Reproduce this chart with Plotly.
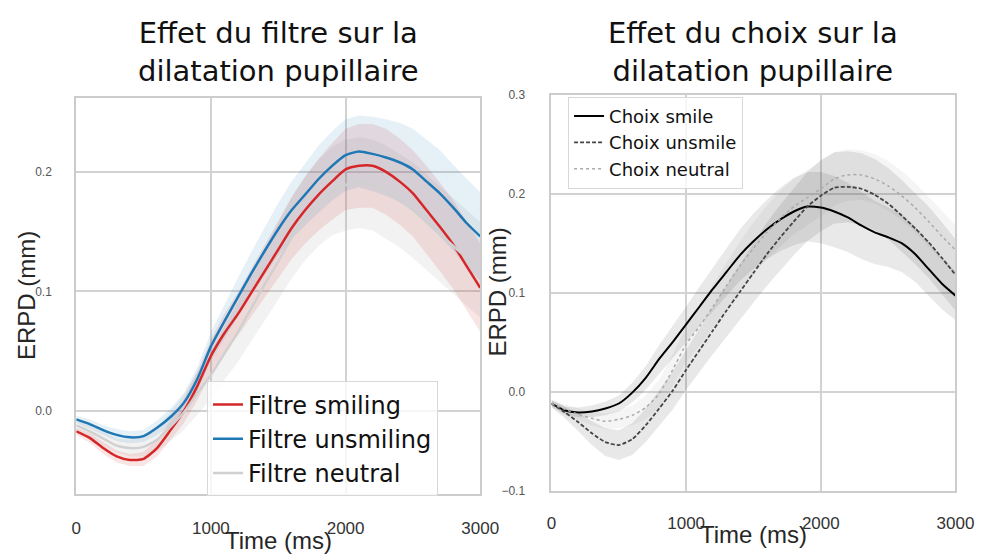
import plotly.graph_objects as go

# ---------------- data ----------------
time_ms = [0, 100, 200, 300, 400, 500, 600, 700, 800, 900, 1000,
           1100, 1200, 1300, 1400, 1500, 1600, 1700, 1800, 1900, 2000,
           2100, 2200, 2300, 2400, 2500, 2600, 2700, 2800, 2900, 3000]

# Effet du filtre : moyennes (mm) et demi-largeurs d'intervalle de confiance
filtre_smiling = [-0.017, -0.0225, -0.031, -0.038, -0.041, -0.040, -0.031, -0.016, 0.000, 0.021, 0.046,
                  0.065, 0.081, 0.099, 0.117, 0.135, 0.153, 0.168, 0.181, 0.192, 0.202,
                  0.205, 0.205, 0.200, 0.192, 0.182, 0.168, 0.154, 0.139, 0.121, 0.103]
filtre_smiling_ci = [0.003, 0.004, 0.005, 0.005, 0.005, 0.006, 0.007, 0.008, 0.010, 0.012, 0.014,
                     0.016, 0.018, 0.020, 0.022, 0.024, 0.026, 0.028, 0.030, 0.032, 0.034,
                     0.035, 0.035, 0.036, 0.036, 0.036, 0.037, 0.037, 0.037, 0.037, 0.037]

filtre_unsmiling = [-0.007, -0.011, -0.016, -0.020, -0.022, -0.021, -0.014, -0.005, 0.007, 0.027, 0.054,
                    0.075, 0.095, 0.115, 0.134, 0.152, 0.168, 0.181, 0.194, 0.205, 0.214,
                    0.217, 0.215, 0.212, 0.208, 0.202, 0.192, 0.182, 0.170, 0.157, 0.146]
filtre_unsmiling_ci = [0.003, 0.004, 0.004, 0.005, 0.005, 0.005, 0.006, 0.007, 0.008, 0.010, 0.012,
                       0.014, 0.016, 0.018, 0.020, 0.022, 0.024, 0.026, 0.028, 0.029, 0.030,
                       0.030, 0.031, 0.032, 0.033, 0.034, 0.035, 0.036, 0.036, 0.037, 0.037]

filtre_neutral = [-0.012, -0.017, -0.023, -0.029, -0.031, -0.030, -0.024, -0.013, -0.001, 0.015, 0.030,
                  0.048, 0.066, 0.086, 0.106, 0.125, 0.145, 0.161, 0.174, 0.184, 0.189,
                  0.191, 0.189, 0.183, 0.176, 0.168, 0.158, 0.148, 0.138, 0.128, 0.118]
filtre_neutral_ci = [0.004, 0.005, 0.006, 0.006, 0.007, 0.008, 0.010, 0.012, 0.015, 0.018, 0.020,
                     0.022, 0.025, 0.028, 0.030, 0.032, 0.034, 0.035, 0.036, 0.037, 0.038,
                     0.038, 0.038, 0.039, 0.039, 0.040, 0.040, 0.040, 0.040, 0.040, 0.040]

# Effet du choix
choix_smile = [-0.012, -0.019, -0.021, -0.020, -0.017, -0.012, -0.001, 0.014, 0.033, 0.050, 0.068,
               0.086, 0.104, 0.121, 0.138, 0.152, 0.164, 0.174, 0.182, 0.187, 0.186,
               0.182, 0.176, 0.168, 0.161, 0.156, 0.150, 0.139, 0.124, 0.109, 0.097]
choix_smile_ci = [0.003, 0.004, 0.005, 0.006, 0.007, 0.008, 0.010, 0.012, 0.014, 0.016, 0.018,
                  0.020, 0.022, 0.024, 0.026, 0.028, 0.030, 0.032, 0.034, 0.035, 0.036,
                  0.036, 0.035, 0.034, 0.032, 0.030, 0.029, 0.028, 0.027, 0.026, 0.025]

choix_unsmile = [-0.012, -0.021, -0.031, -0.042, -0.051, -0.054, -0.048, -0.034, -0.017, 0.001, 0.022,
                 0.042, 0.062, 0.082, 0.101, 0.120, 0.139, 0.156, 0.172, 0.187, 0.198,
                 0.206, 0.207, 0.205, 0.199, 0.190, 0.178, 0.165, 0.151, 0.135, 0.118]
choix_unsmile_ci = [0.004, 0.006, 0.009, 0.012, 0.014, 0.015, 0.016, 0.017, 0.018, 0.019, 0.020,
                    0.022, 0.024, 0.026, 0.028, 0.030, 0.032, 0.033, 0.034, 0.035, 0.036,
                    0.036, 0.036, 0.036, 0.036, 0.036, 0.036, 0.036, 0.036, 0.036, 0.036]

choix_neutral = [-0.012, -0.018, -0.023, -0.027, -0.030, -0.028, -0.024, -0.016, -0.002, 0.022, 0.048,
                 0.066, 0.086, 0.107, 0.127, 0.145, 0.161, 0.175, 0.187, 0.196, 0.205,
                 0.215, 0.219, 0.219, 0.215, 0.208, 0.198, 0.186, 0.172, 0.157, 0.143]
choix_neutral_ci = [0.003, 0.005, 0.006, 0.007, 0.008, 0.009, 0.010, 0.012, 0.014, 0.016, 0.018,
                    0.020, 0.022, 0.024, 0.025, 0.026, 0.027, 0.028, 0.028, 0.028, 0.028,
                    0.027, 0.026, 0.025, 0.025, 0.025, 0.025, 0.025, 0.025, 0.025, 0.025]

x_ticks = [0, 1000, 2000, 3000]
y_ticks_left = [0.0, 0.1, 0.2]
y_ticks_right = [-0.1, 0.0, 0.1, 0.2, 0.3]

# ---------------- figure ----------------
fig = go.Figure()

def band(mean, ci, color, xa, ya):
    upper = [m + c for m, c in zip(mean, ci)]
    lower = [m - c for m, c in zip(mean, ci)]
    fig.add_trace(go.Scatter(
        x=time_ms + time_ms[::-1], y=upper + lower[::-1],
        fill="toself", fillcolor=color, line=dict(width=0), mode="lines",
        hoverinfo="skip", showlegend=False, xaxis=xa, yaxis=ya))

def curve(mean, name, color, width, dash, xa, ya, legend):
    fig.add_trace(go.Scatter(
        x=time_ms, y=mean, name=name, mode="lines",
        line=dict(color=color, width=width, dash=dash, shape="spline", smoothing=0.6),
        xaxis=xa, yaxis=ya, legend=legend))

# left panel: filter
band(filtre_neutral, filtre_neutral_ci, "rgba(165,165,165,0.14)", "x", "y")
band(filtre_smiling, filtre_smiling_ci, "rgba(214,39,40,0.12)", "x", "y")
band(filtre_unsmiling, filtre_unsmiling_ci, "rgba(31,119,180,0.11)", "x", "y")
curve(filtre_smiling, "Filtre smiling", "#d62728", 2.5, "solid", "x", "y", "legend")
curve(filtre_unsmiling, "Filtre unsmiling", "#1f77b4", 2.5, "solid", "x", "y", "legend")
curve(filtre_neutral, "Filtre neutral", "#d0d0d0", 2.5, "solid", "x", "y", "legend")

# right panel: choice
band(choix_neutral, choix_neutral_ci, "rgba(170,170,170,0.12)", "x2", "y2")
band(choix_smile, choix_smile_ci, "rgba(0,0,0,0.085)", "x2", "y2")
band(choix_unsmile, choix_unsmile_ci, "rgba(30,30,30,0.10)", "x2", "y2")
curve(choix_smile, "Choix smile", "#000000", 2, "solid", "x2", "y2", "legend2")
curve(choix_unsmile, "Choix unsmile", "#444444", 1.8, "4px,2px", "x2", "y2", "legend2")
curve(choix_neutral, "Choix neutral", "#aaaaaa", 1.5, "3px,3px", "x2", "y2", "legend2")

W, H = 994, 559
grid = "#d2d2d2"
frame = "#cccccc"
tick_x_font = dict(family="Liberation Sans, Arial, sans-serif", size=17, color="#333333")
tick_y_font = dict(family="Liberation Sans, Arial, sans-serif", size=12, color="#555555")

axis_common = dict(showgrid=True, gridcolor=grid, gridwidth=1.5, showline=True, mirror=True,
                   linecolor=frame, linewidth=2, zeroline=False, ticks="")

fig.update_layout(
    width=W, height=H,
    margin=dict(l=0, r=0, t=0, b=0),
    paper_bgcolor="white", plot_bgcolor="white",
    xaxis=dict(domain=[73 / W, 487 / W], range=[0, 3000], tickvals=x_ticks,
               tickfont=tick_x_font, ticklabelstandoff=18, anchor="y", **axis_common),
    yaxis=dict(domain=[60 / H, 466 / H], range=[-0.069, 0.262], tickvals=y_ticks_left,
               ticktext=["%.1f" % v for v in y_ticks_left], tickfont=tick_y_font,
               ticklabelstandoff=20, anchor="x", **axis_common),
    xaxis2=dict(domain=[560 / W, 974 / W], range=[0, 3000], tickvals=x_ticks,
                tickfont=tick_x_font, ticklabelstandoff=16, anchor="y2", **axis_common),
    yaxis2=dict(domain=[63 / H, 469 / H], range=[-0.1, 0.3], tickvals=y_ticks_right,
                ticktext=[("\u2212%.1f" % -v) if v < 0 else "%.1f" % v for v in y_ticks_right],
                tickfont=tick_y_font, ticklabelstandoff=22, anchor="x2", **axis_common),
    legend=dict(x=207 / W, y=1 - 384 / H, xanchor="left", yanchor="top",
                bgcolor="rgba(255,255,255,0.8)", bordercolor="#d8d8d8", borderwidth=1,
                font=dict(family="DejaVu Sans", size=24, color="#111111"),
                entrywidth=228, entrywidthmode="pixels", tracegroupgap=0),
    legend2=dict(x=577 / W, y=1 - 92 / H, xanchor="left", yanchor="top",
                 bgcolor="rgba(255,255,255,0.8)", bordercolor="#d8d8d8", borderwidth=1,
                 font=dict(family="DejaVu Sans", size=18, color="#111111"),
                 entrywidth=160, entrywidthmode="pixels", tracegroupgap=0),
    showlegend=True,
)

title_font = dict(family="DejaVu Sans", size=29, color="#111111")
axis_title_font = dict(family="Liberation Sans, Arial, sans-serif", size=24, color="#262626")

annotations = [
    dict(text="Effet du filtre sur la<br>dilatation pupillaire", x=280 / W, y=1 - 46 / H,
         font=title_font),
    dict(text="Effet du choix sur la<br>dilatation pupillaire", x=767 / W, y=1 - 46 / H,
         font=title_font),
    dict(text="Time (ms)", x=280 / W, y=1 - 547 / H, font=axis_title_font),
    dict(text="Time (ms)", x=767 / W, y=1 - 541 / H, font=axis_title_font),
    dict(text="ERPD (mm)", x=22 / W, y=1 - 296 / H, textangle=-90, font=axis_title_font),
    dict(text="ERPD (mm)", x=505 / W, y=1 - 292 / H, textangle=-90, font=axis_title_font),
]
for a in annotations:
    fig.add_annotation(xref="paper", yref="paper", xanchor="center", yanchor="middle",
                       showarrow=False, **a)

# page without default body margin so the figure sits flush in the window
page_js = "document.body.style.margin = '0'; document.body.style.overflow = 'hidden';"
fig.write_html("out.html", post_script=page_js)
